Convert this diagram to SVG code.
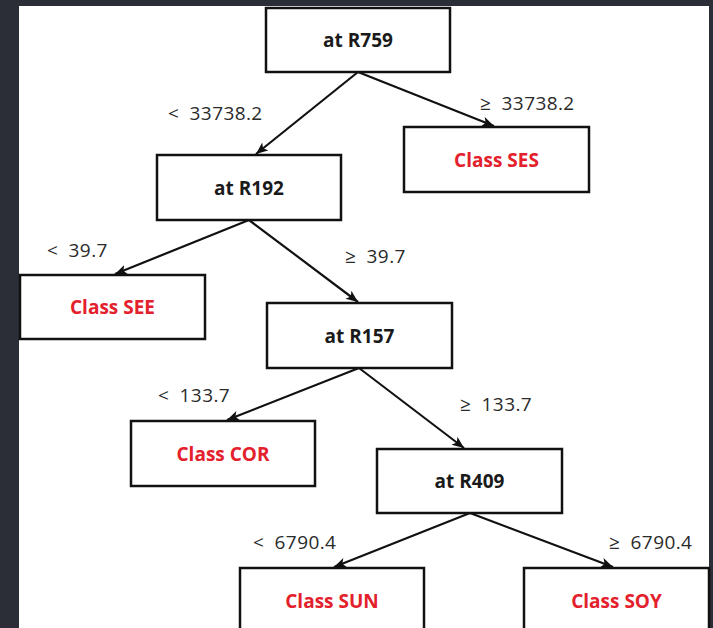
<svg xmlns="http://www.w3.org/2000/svg" width="713" height="628" viewBox="0 0 713 628">
  <style>
    .box { fill: #ffffff; stroke: #111111; stroke-width: 2.5; }
    .node-text { font-family: "Open Sans", "Liberation Sans", sans-serif; font-weight: bold; font-size: 19px; text-anchor: middle; fill: #1a1a1a; }
    .leaf-text { fill: #e3202b; }
    .edge { stroke: #111111; stroke-width: 2.2; fill: none; marker-end: url(#head); }
    .cond { font-family: "Open Sans", "Liberation Sans", sans-serif; font-size: 19px; fill: #2a2a2a; letter-spacing: 0.4px; word-spacing: 5px; }
  </style>
  <defs>
    <marker id="head" markerUnits="userSpaceOnUse" markerWidth="14" markerHeight="12" refX="12" refY="5" orient="auto">
      <path d="M0,0 L12,5 L0,10 L3,5 z" fill="#111111"/>
    </marker>
  </defs>

  <!-- frame and canvas -->
  <rect x="0" y="0" width="713" height="628" fill="#2b2e36"/>
  <rect x="19" y="6" width="690" height="622" fill="#ffffff"/>

  <!-- connectors -->
  <g id="edges">
    <line class="edge" x1="358" y1="72" x2="256" y2="154"/>
    <line class="edge" x1="358" y1="72" x2="494" y2="126"/>
    <line class="edge" x1="249" y1="220" x2="115" y2="274"/>
    <line class="edge" x1="249" y1="220" x2="358" y2="302"/>
    <line class="edge" x1="359" y1="368" x2="227" y2="420"/>
    <line class="edge" x1="359" y1="368" x2="464" y2="448"/>
    <line class="edge" x1="470" y1="513" x2="334" y2="567"/>
    <line class="edge" x1="470" y1="513" x2="613" y2="567"/>
  </g>

  <!-- branch conditions -->
  <g id="conditions">
    <text class="cond" x="168" y="120">&lt; 33738.2</text>
    <text class="cond" x="480" y="110">≥ 33738.2</text>
    <text class="cond" x="47" y="257">&lt; 39.7</text>
    <text class="cond" x="345" y="263">≥ 39.7</text>
    <text class="cond" x="158" y="402">&lt; 133.7</text>
    <text class="cond" x="460" y="411">≥ 133.7</text>
    <text class="cond" x="253" y="549">&lt; 6790.4</text>
    <text class="cond" x="609" y="549">≥ 6790.4</text>
  </g>

  <g id="node-r759">
    <rect class="box" x="266" y="8" width="184" height="64"/>
    <text class="node-text" x="358" y="47">at R759</text>
  </g>
  <g id="node-ses">
    <rect class="box" x="404" y="127" width="185" height="65"/>
    <text class="node-text leaf-text" x="496.5" y="166.5">Class SES</text>
  </g>
  <g id="node-r192">
    <rect class="box" x="157" y="155" width="184" height="65"/>
    <text class="node-text" x="249" y="194.5">at R192</text>
  </g>
  <g id="node-see">
    <rect class="box" x="20" y="275" width="185" height="64"/>
    <text class="node-text leaf-text" x="112.5" y="314">Class SEE</text>
  </g>
  <g id="node-r157">
    <rect class="box" x="267" y="303" width="185" height="65"/>
    <text class="node-text" x="359.5" y="342.5">at R157</text>
  </g>
  <g id="node-cor">
    <rect class="box" x="131" y="421" width="184" height="65"/>
    <text class="node-text leaf-text" x="223" y="460.5">Class COR</text>
  </g>
  <g id="node-r409">
    <rect class="box" x="377" y="449" width="185" height="64"/>
    <text class="node-text" x="469.5" y="488">at R409</text>
  </g>
  <g id="node-sun">
    <rect class="box" x="240" y="568" width="184" height="65"/>
    <text class="node-text leaf-text" x="332" y="607.5">Class SUN</text>
  </g>
  <g id="node-soy">
    <rect class="box" x="524" y="568" width="185" height="65"/>
    <text class="node-text leaf-text" x="616.5" y="607.5">Class SOY</text>
  </g>
</svg>
